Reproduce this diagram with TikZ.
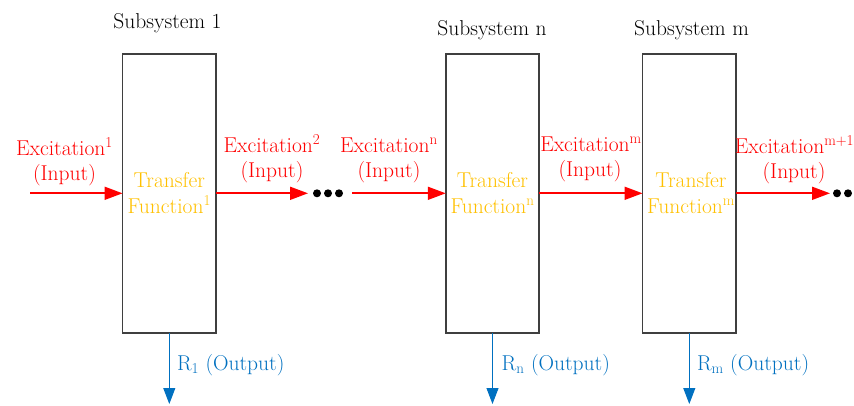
\documentclass[tikz,border=0pt]{standalone}
\usetikzlibrary{arrows.meta}
\definecolor{excred}{HTML}{FF0000}
\definecolor{tfgold}{HTML}{FFC000}
\definecolor{outblue}{HTML}{0070C0}
\definecolor{boxgray}{HTML}{3F3F3F}
\begin{document}
\begin{tikzpicture}[x=1pt,y=-1pt,
  every node/.style={inner sep=0pt, outer sep=0pt, font=\rmfamily\fontsize{21.5}{25}\selectfont},
  subsys/.style={draw=boxgray, line width=1.8pt, minimum width=93.5pt, minimum height=279pt},
  title/.style={anchor=base},
  exclabel/.style={anchor=base, text=excred},
  tflabel/.style={anchor=base, text=tfgold},
  outlabel/.style={anchor=base west, text=outblue},
  excite/.style={draw=excred, line width=1.7pt, -{Triangle[length=18pt,width=13pt]}},
  response/.style={draw=outblue, line width=1pt, -{Triangle[length=16pt,width=12pt]}},
  dot/.style={circle, fill=black, minimum size=8pt}
]
\useasboundingbox (0,0) rectangle (854,405);

% subsystem blocks
\node[subsys] (s1) at (169.3,193.5) {};
\node[subsys] (sn) at (492.5,193.5) {};
\node[subsys] (sm) at (689.3,193.5) {};

% block titles
\node[title] (t1) at (167.5,28.5) {Subsystem 1};
\node[title] (tn) at (492,35) {Subsystem n};
\node[title] (tm) at (691.5,35) {Subsystem m};

% transfer functions
\node[tflabel] (tf1a) at (169.3,187) {Transfer};
\node[tflabel] (tf1b) at (169.3,213) {Function\textsuperscript{1}};
\node[tflabel] (tfna) at (492.5,187) {Transfer};
\node[tflabel] (tfnb) at (492.5,213) {Function\textsuperscript{n}};
\node[tflabel] (tfma) at (691,187) {Transfer};
\node[tflabel] (tfmb) at (691,213) {Function\textsuperscript{m}};

% excitation labels
\node[exclabel] (e1a) at (64.5,155) {Excitation\textsuperscript{1}};
\node[exclabel] (e1b) at (64.5,180) {(Input)};
\node[exclabel] (e2a) at (272,152) {Excitation\textsuperscript{2}};
\node[exclabel] (e2b) at (272,177) {(Input)};
\node[exclabel] (ena) at (389,152) {Excitation\textsuperscript{n}};
\node[exclabel] (enb) at (389,177) {(Input)};
\node[exclabel] (ema) at (591,151) {Excitation\textsuperscript{m}};
\node[exclabel] (emb) at (590,176) {(Input)};
\node[exclabel] (eka) at (794.5,153) {Excitation\textsuperscript{m+1}};
\node[exclabel] (ekb) at (794,178) {(Input)};

% excitation arrows
\coordinate (in1) at (30,193.3);
\coordinate (out1) at (308,193.3);
\coordinate (inn) at (352,193.3);
\coordinate (outm) at (830,193.3);
\draw[excite] (in1) -- (s1.west |- in1);
\draw[excite] (s1.east |- out1) -- (out1);
\draw[excite] (inn) -- (sn.west |- inn);
\draw[excite] (sn.east |- inn) -- (sm.west |- inn);
\draw[excite] (sm.east |- outm) -- (outm);

% continuation dots
\node[dot] (d1) at (317,193.3) {};
\node[dot] (d2) at (328,193.3) {};
\node[dot] (d3) at (339,193.3) {};
\node[dot] (d4) at (837,193.3) {};
\node[dot] (d5) at (848,193.3) {};

% responses
\coordinate (r1) at (169.3,404);
\coordinate (rn) at (492.5,404);
\coordinate (rm) at (689.3,404);
\draw[response] (s1.south) -- (r1);
\draw[response] (sn.south) -- (rn);
\draw[response] (sm.south) -- (rm);
\node[outlabel] (o1) at (177,370.7) {R\textsubscript{1} (Output)};
\node[outlabel] (on) at (501.7,370.7) {R\textsubscript{n} (Output)};
\node[outlabel] (om) at (697,370.7) {R\textsubscript{m} (Output)};
\end{tikzpicture}
\end{document}
